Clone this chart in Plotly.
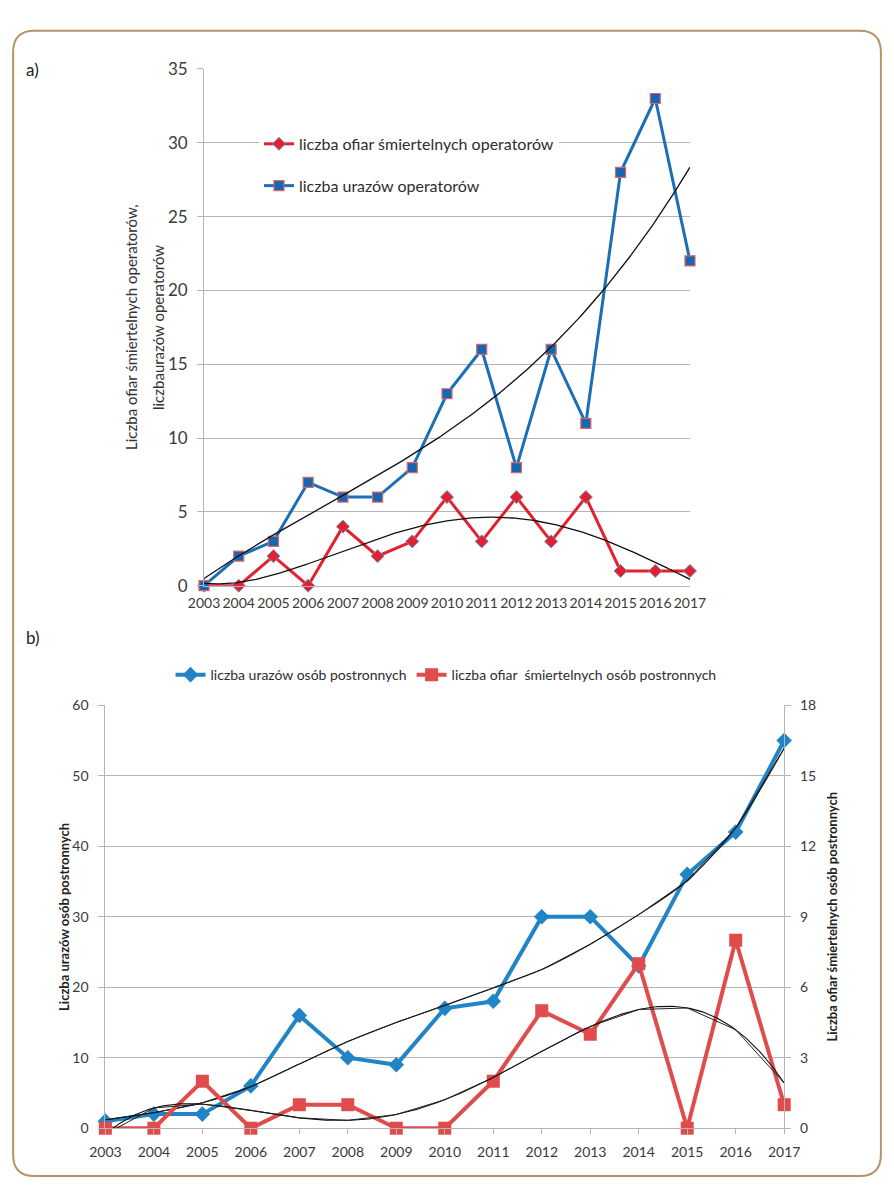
import numpy as np
import plotly.graph_objects as go

W, H = 894, 1189

# --- data -------------------------------------------------------------
lata = [2003, 2004, 2005, 2006, 2007, 2008, 2009, 2010,
        2011, 2012, 2013, 2014, 2015, 2016, 2017]

# a) operators
ofiary_operatorow = [0, 0, 2, 0, 4, 2, 3, 6, 3, 6, 3, 6, 1, 1, 1]
urazy_operatorow = [0, 2, 3, 7, 6, 6, 8, 13, 16, 8, 16, 11, 28, 33, 22]

# b) bystanders
urazy_postronnych = [1, 2, 2, 6, 16, 10, 9, 17, 18, 30, 30, 23, 36, 42, 55]
ofiary_postronnych = [0, 0, 2, 0, 1, 1, 0, 0, 2, 5, 4, 7, 0, 8, 1]
# trend of bystander injuries, as plotted on the chart
trend_urazy_postronnych = [1.2, 2.2, 3.6, 5.9, 9.1, 12.3, 15.0, 17.4,
                           19.9, 22.5, 26.1, 30.3, 35.1, 42.6, 53.9]

FONT = "Lato"
TXT = "#3a3a3a"
GRID = "#b5b5b5"


def px(x):
    return x / W


def py(y):
    return 1 - y / H


def trend(values, deg, n=281):
    """Polynomial trend line of a series, sampled densely over the years."""
    x = np.array(lata, dtype=float) - lata[0]
    coef = np.polyfit(x, np.array(values, dtype=float), deg)
    xs = np.linspace(0, x[-1], n)
    return xs + lata[0], np.polyval(coef, xs), np.polyval(coef, x)


fig = go.Figure()

# ---------------- a) ----------------
fig.add_trace(go.Scatter(
    x=lata, y=ofiary_operatorow, mode="lines+markers",
    name="liczba ofiar śmiertelnych operatorów",
    line=dict(color="#e3202b", width=3),
    marker=dict(symbol="diamond", size=10, color="#e3202b",
                line=dict(color="#5b95d3", width=1)),
    xaxis="x", yaxis="y", cliponaxis=False,
    legend="legend", legendgroup="g1",
))
fig.add_trace(go.Scatter(
    x=lata, y=urazy_operatorow, mode="lines+markers",
    name="liczba urazów operatorów",
    line=dict(color="#1c6fb6", width=3),
    marker=dict(symbol="square", size=10, color="#1467b2",
                line=dict(color="#e06363", width=1.2)),
    xaxis="x", yaxis="y", cliponaxis=False,
    legend="legend", legendgroup="g2",
))
for vals, deg in ((urazy_operatorow, 3), (ofiary_operatorow, 4)):
    tx, ty, _ = trend(vals, deg)
    fig.add_trace(go.Scatter(
        x=tx, y=ty, mode="lines", line=dict(color="#111111", width=1.3),
        xaxis="x", yaxis="y", showlegend=False, hoverinfo="skip",
    ))

# ---------------- b) ----------------
fig.add_trace(go.Scatter(
    x=lata, y=urazy_postronnych, mode="lines+markers",
    name="liczba urazów osób postronnych",
    line=dict(color="#2184c6", width=4),
    marker=dict(symbol="diamond", size=12, color="#2184c6"),
    xaxis="x2", yaxis="y2", cliponaxis=False, legend="legend2",
))
fig.add_trace(go.Scatter(
    x=lata, y=ofiary_postronnych, mode="lines+markers",
    name="liczba ofiar  śmiertelnych osób postronnych",
    line=dict(color="#e04b4b", width=4),
    marker=dict(symbol="square", size=13, color="#e04b4b"),
    xaxis="x2", yaxis="y3", cliponaxis=False, legend="legend2",
))

# injuries trend: smooth curve plus its polyline twin
fig.add_trace(go.Scatter(
    x=lata, y=trend_urazy_postronnych, mode="lines",
    line=dict(color="#111111", width=1.1, shape="spline", smoothing=0.8),
    xaxis="x2", yaxis="y2", showlegend=False, hoverinfo="skip",
))
fig.add_trace(go.Scatter(
    x=lata, y=trend_urazy_postronnych, mode="lines",
    line=dict(color="#222222", width=1.0),
    xaxis="x2", yaxis="y2", showlegend=False, hoverinfo="skip",
))
# fatalities trend (6th order polynomial)
tx, ty, ti = trend(ofiary_postronnych, 6)
fig.add_trace(go.Scatter(
    x=tx, y=ty, mode="lines", line=dict(color="#111111", width=1.1),
    xaxis="x2", yaxis="y3", showlegend=False, hoverinfo="skip",
))
fig.add_trace(go.Scatter(
    x=lata, y=ti, mode="lines", line=dict(color="#222222", width=1.0),
    xaxis="x2", yaxis="y3", showlegend=False, hoverinfo="skip",
))

tickfont = dict(family=FONT, size=14, color=TXT)

# frame with rounded corners
x0, x1, y0, y1, r = -3, 897, 20, 1186, 22
frame = (
    f"M {px(x0 + r)},{py(y0)} L {px(x1 - r)},{py(y0)} "
    f"Q {px(x1)},{py(y0)} {px(x1)},{py(y0 + r)} "
    f"L {px(x1)},{py(y1 - r)} Q {px(x1)},{py(y1)} {px(x1 - r)},{py(y1)} "
    f"L {px(x0 + r)},{py(y1)} Q {px(x0)},{py(y1)} {px(x0)},{py(y1 - r)} "
    f"L {px(x0)},{py(y0 + r)} Q {px(x0)},{py(y0)} {px(x0 + r)},{py(y0)} Z"
)

fig.update_layout(
    width=W, height=H,
    margin=dict(l=0, r=0, t=0, b=0),
    paper_bgcolor="white", plot_bgcolor="white",
    font=dict(family=FONT, color=TXT),
    # a)
    xaxis=dict(
        domain=[px(195), px(699)], range=[2003, 2017],
        tickvals=lata, tickfont=dict(family=FONT, size=14, color=TXT),
        showgrid=False, zeroline=False, showline=True, linecolor=GRID,
        ticks="", ticklabelstandoff=5, anchor="y", fixedrange=True,
    ),
    yaxis=dict(
        domain=[py(585), py(59)], range=[0, 35], dtick=5,
        tickfont=dict(family=FONT, size=17, color=TXT),
        showgrid=True, gridcolor=GRID, gridwidth=1, zeroline=False,
        showline=True, linecolor=GRID, ticks="outside", ticklen=6,
        tickcolor=GRID, ticklabelstandoff=6, anchor="x",
    ),
    # b)
    xaxis2=dict(
        domain=[px(92.7), px(796.7)], range=[2003, 2017],
        tickvals=lata, tickfont=tickfont,
        showgrid=False, zeroline=False, showline=True, linecolor=GRID,
        ticks="outside", ticklen=5, tickcolor=GRID, ticklabelstandoff=6,
        anchor="y2",
    ),
    yaxis2=dict(
        domain=[py(1137.3), py(706.7)], range=[0, 60], dtick=10,
        tickfont=tickfont,
        showgrid=True, gridcolor=GRID, gridwidth=1, zeroline=False,
        showline=True, linecolor=GRID, ticks="outside", ticklen=6,
        tickcolor=GRID, ticklabelstandoff=7, anchor="x2",
    ),
    yaxis3=dict(
        domain=[py(1137.3), py(706.7)], range=[0, 18], dtick=3,
        tickfont=tickfont, overlaying="y2", side="right",
        showgrid=False, zeroline=False,
        showline=True, linecolor=GRID, ticks="outside", ticklen=6,
        tickcolor=GRID, ticklabelstandoff=6, anchor="x2",
    ),
    legend=dict(
        x=px(252), y=py(118), xanchor="left", yanchor="top",
        bgcolor="white", borderwidth=0, tracegroupgap=18,
        font=dict(family=FONT, size=16, color="#2e2e2e"),
        itemwidth=30,
    ),
    legend2=dict(
        orientation="h", x=px(446), y=py(676), xanchor="center",
        yanchor="middle", bgcolor="rgba(0,0,0,0)",
        font=dict(family=FONT, size=14, color="#2e2e2e"),
        itemwidth=30,
    ),
    shapes=[dict(type="path", xref="paper", yref="paper", path=frame,
                 line=dict(color="#b5946a", width=2), layer="above")],
    annotations=[
        dict(text="a)", x=px(8), y=py(60), xref="paper", yref="paper",
             xanchor="left", yanchor="middle", showarrow=False,
             font=dict(family=FONT, size=17, color="#222")),
        dict(text="b)", x=px(8), y=py(638), xref="paper", yref="paper",
             xanchor="left", yanchor="middle", showarrow=False,
             font=dict(family=FONT, size=17, color="#222")),
        dict(text="Liczba ofiar śmiertelnych operatorów,", x=px(120),
             y=py(322), xref="paper", yref="paper", textangle=-90,
             showarrow=False, xanchor="center", yanchor="middle",
             font=dict(family=FONT, size=15, color="#333")),
        dict(text="liczbaurazów operatorów", x=px(148),
             y=py(322), xref="paper", yref="paper", textangle=-90,
             showarrow=False, xanchor="center", yanchor="middle",
             font=dict(family=FONT, size=15, color="#333")),
        dict(text="<b>Liczba urazów osób postronnych</b>", x=px(50),
             y=py(922), xref="paper", yref="paper", textangle=-90,
             showarrow=False, xanchor="center", yanchor="middle",
             font=dict(family=FONT, size=13, color="#222")),
        dict(text="<b>Liczba ofiar śmiertelnych osób postronnych</b>",
             x=px(846), y=py(922), xref="paper", yref="paper",
             textangle=-90, showarrow=False, xanchor="center",
             yanchor="middle",
             font=dict(family=FONT, size=13, color="#222")),
    ],
)

# the page itself adds no margin around the figure
fig.write_html(
    "out.html",
    post_script="document.body.style.margin='0';"
                "document.body.style.overflow='hidden';",
)
